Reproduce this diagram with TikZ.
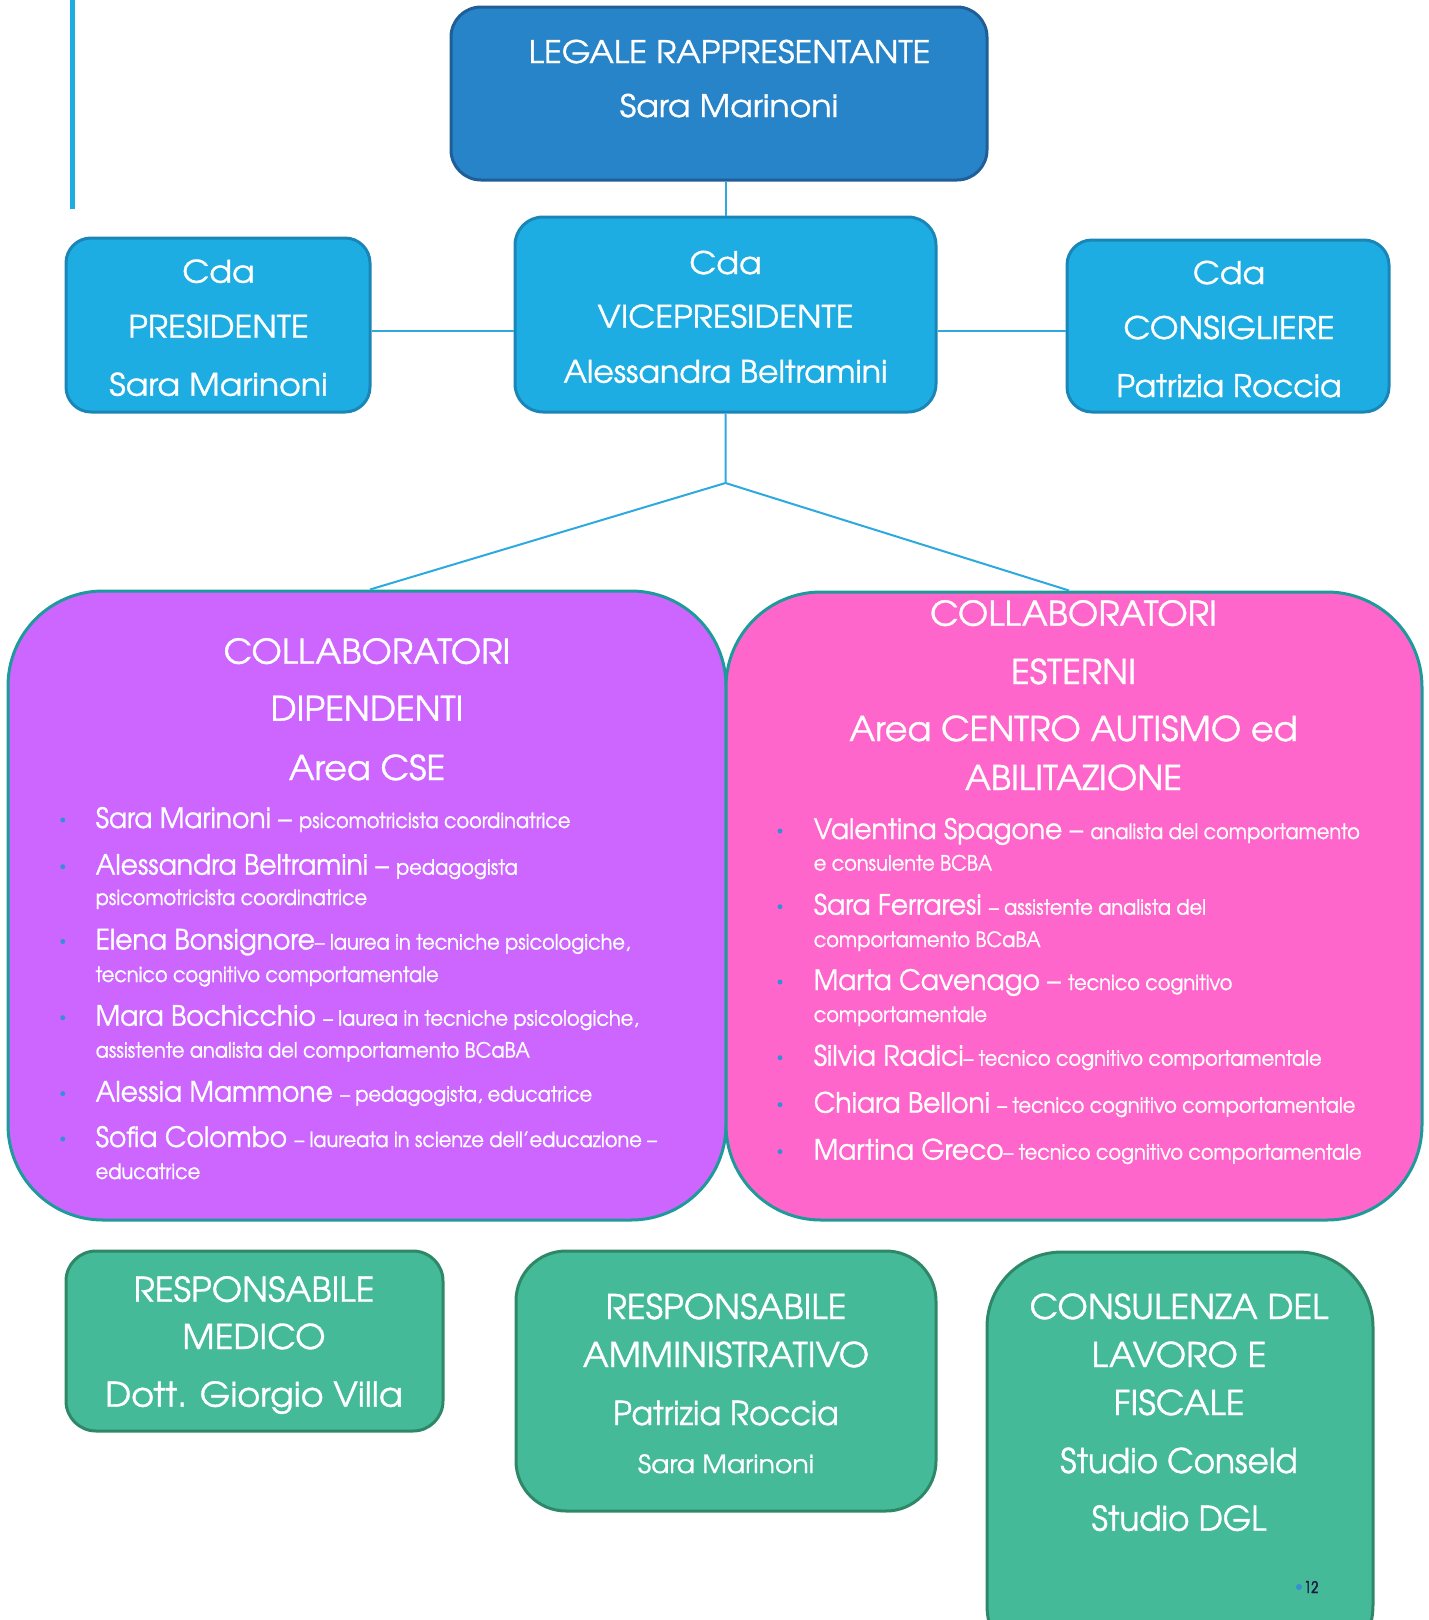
\documentclass[tikz,border=0pt]{standalone}
\usepackage{fontspec}
\setmainfont{texgyreadventor-regular.otf}[FakeStretch=1.0,FakeBold=1.0]
\newfontfamily\fCda{texgyreadventor-regular.otf}[FakeStretch=1.07,FakeBold=1.0]
\newfontfamily\fCdaM{texgyreadventor-regular.otf}[FakeStretch=1.02,FakeBold=1.0]
\newfontfamily\fHead{texgyreadventor-regular.otf}[FakeStretch=1.03,FakeBold=1.0]
\newfontfamily\fHeadM{texgyreadventor-regular.otf}[FakeStretch=0.96,FakeBold=1.0]
\newfontfamily\fName{texgyreadventor-regular.otf}[FakeStretch=0.95,FakeBold=1.0]
\newfontfamily\fDesc{texgyreadventor-regular.otf}[FakeStretch=0.92,FakeBold=1.0]
\newfontfamily\fPg{texgyreadventor-regular.otf}[FakeStretch=0.8,FakeBold=2.5]
\usetikzlibrary{calc}
\definecolor{legfill}{HTML}{2884C8}
\definecolor{legdraw}{HTML}{1F5E96}
\definecolor{cdafill}{HTML}{1EADE3}
\definecolor{cdadraw}{HTML}{1A86B8}
\definecolor{linkcol}{HTML}{2DA9DF}
\definecolor{purfill}{HTML}{CC66FF}
\definecolor{pinkfill}{HTML}{FF66CC}
\definecolor{bigdraw}{HTML}{1E9A9A}
\definecolor{grnfill}{HTML}{44BA98}
\definecolor{grndraw}{HTML}{2E8868}
\definecolor{bulcol}{HTML}{3490D5}
\definecolor{pgcol}{HTML}{1A1A40}
\newcommand\szCda{\fCda\fontsize{31}{36}\selectfont}
\newcommand\szCdaM{\fCdaM\fontsize{31}{36}\selectfont}
\newcommand\szHead{\fHead\fontsize{34}{40}\selectfont}
\newcommand\szHeadM{\fHeadM\fontsize{34}{40}\selectfont}
\newcommand\szName{\fName\fontsize{28}{32}\selectfont}
\newcommand\szDesc{\fDesc\fontsize{21}{25}\selectfont}
\newcommand\szSmall{\fCda\fontsize{25}{30}\selectfont}
\begin{document}
\begin{tikzpicture}[x=1pt,y=-1pt,
  box/.style={rectangle, draw, line width=3pt, inner sep=0pt},
  legbox/.style={box, fill=legfill, draw=legdraw},
  cdabox/.style={box, fill=cdafill, draw=cdadraw},
  bigbox/.style={box, draw=bigdraw},
  grnbox/.style={box, fill=grnfill, draw=grndraw},
  link/.style={draw=linkcol, line width=2pt},
  tl/.style={text=white, inner sep=0pt, anchor=base},
  tll/.style={tl, anchor=base west},
  bul/.style={circle, fill=bulcol, inner sep=0pt, minimum size=5pt}]
\useasboundingbox (0,0) rectangle (1429,1620);
\clip (0,0) rectangle (1429,1620);

% decorative left line
\draw[draw=cdafill, line width=5pt] (72,0) -- (72,209);

% boxes
\node[legbox, rounded corners=30pt, minimum width=536pt, minimum height=173pt] (leg) at (719,93.5) {};
\node[cdabox, rounded corners=25pt, minimum width=304pt, minimum height=174pt] (pres) at (218,325) {};
\node[cdabox, rounded corners=28pt, minimum width=421pt, minimum height=195pt] (vice) at (725.5,314.5) {};
\node[cdabox, rounded corners=25pt, minimum width=322pt, minimum height=172pt] (cons) at (1228,326) {};
\node[bigbox, fill=purfill, rounded corners=95pt, minimum width=718pt, minimum height=629pt] (dip) at (367,905.5) {};
\node[bigbox, fill=pinkfill, rounded corners=95pt, minimum width=696pt, minimum height=628pt] (est) at (1074,906) {};
\node[grnbox, rounded corners=30pt, minimum width=377pt, minimum height=180pt] (med) at (254.5,1341) {};
\node[grnbox, rounded corners=50pt, minimum width=420pt, minimum height=260pt] (amm) at (726,1381) {};
\node[grnbox, rounded corners=75pt, minimum width=386pt, minimum height=428pt] (fis) at (1180,1466) {};

% connectors
\coordinate (hub) at (725.5,483);
\path (pres.east) ++(0,6) coordinate (pe);
\path (cons.west) ++(0,5) coordinate (ce);
\path (dip.north) ++(3,0) coordinate (dn);
\path (est.north) ++(-5,0) coordinate (en);
\draw[link] (vice.north) -- (vice.north |- leg.south);
\draw[link] (pe) -- (pe -| vice.west);
\draw[link] (ce) -- (ce -| vice.east);
\draw[link] (vice.south) -- (hub) -- (dn);
\draw[link] (hub) -- (en);

% texts top boxes
\node[tl] (leg1) at (729.5,63) {\szCda LEGALE RAPPRESENTANTE};
\node[tl] (leg2) at (729,117) {\szCda Sara Marinoni};
\node[tl] (pres1) at (218.5,282.7) {\szCda Cda};
\node[tl] (pres2) at (218.5,337.7) {\szCda PRESIDENTE};
\node[tl] (pres3) at (218.5,395.7) {\szCda Sara Marinoni};
\node[tl] (vice1) at (725.5,274) {\szCda Cda};
\node[tl] (vice2) at (725.5,327.7) {\szCda VICEPRESIDENTE};
\node[tl] (vice3) at (725.5,382.7) {\szCdaM Alessandra Beltramini};
\node[tl] (cons1) at (1229,284) {\szCda Cda};
\node[tl] (cons2) at (1229,339) {\szCda CONSIGLIERE};
\node[tl] (cons3) at (1229,397) {\szCdaM Patrizia Roccia};

% dipendenti
\node[tl] (dh1) at (367,663.7) {\szHead COLLABORATORI};
\node[tl] (dh2) at (367,720.8) {\szHead DIPENDENTI};
\node[tl] (dh3) at (367,780) {\szHead Area CSE};
\node[bul] (db1) at (62.8,820) {};
\node[bul] (db2) at (62.8,866.7) {};
\node[bul] (db3) at (62.8,941.5) {};
\node[bul] (db4) at (62.8,1017.7) {};
\node[bul] (db5) at (62.8,1093.6) {};
\node[bul] (db6) at (62.8,1139) {};
\node[tll] (d1) at (95.5,828) {\szName Sara Marinoni – {\szDesc psicomotricista coordinatrice}};
\node[tll] (d2) at (95.5,874.7) {\szName Alessandra Beltramini – {\szDesc pedagogista}};
\node[tll] (d2b) at (95.5,905) {\szDesc psicomotricista coordinatrice};
\node[tll] (d3) at (95.5,949.5) {\szName Elena Bonsignore{\szDesc – laurea in tecniche psicologiche,}};
\node[tll] (d3b) at (95.5,982) {\szDesc tecnico cognitivo comportamentale};
\node[tll] (d4) at (95.5,1025.7) {\szName Mara Bochicchio {\szDesc – laurea in tecniche psicologiche,}};
\node[tll] (d4b) at (95.5,1057.6) {\szDesc assistente analista del comportamento BCaBA};
\node[tll] (d5) at (95.5,1101.6) {\szName Alessia Mammone {\szDesc – pedagogista, educatrice}};
\node[tll] (d6) at (95.5,1147) {\szName Sofia Colombo {\szDesc – laureata in scienze dell’educazione –}};
\node[tll] (d6b) at (95.5,1179) {\szDesc educatrice};

% esterni
\node[tl] (eh1) at (1073.5,625.7) {\szHead COLLABORATORI};
\node[tl] (eh2) at (1073.5,684) {\szHead ESTERNI};
\node[tl] (eh3) at (1073.5,741) {\szHead Area CENTRO AUTISMO ed};
\node[tl] (eh4) at (1073.5,790) {\szHead ABILITAZIONE};
\node[bul] (eb1) at (780,831) {};
\node[bul] (eb2) at (780,906.7) {};
\node[bul] (eb3) at (780,982) {};
\node[bul] (eb4) at (780,1057.7) {};
\node[bul] (eb5) at (780,1104.7) {};
\node[bul] (eb6) at (780,1151.6) {};
\node[tll] (e1) at (813.6,839) {\szName Valentina Spagone – {\szDesc analista del comportamento}};
\node[tll] (e1b) at (813.6,870.6) {\szDesc e consulente BCBA};
\node[tll] (e2) at (813.6,914.7) {\szName Sara Ferraresi {\szDesc – assistente analista del}};
\node[tll] (e2b) at (813.6,947) {\szDesc comportamento BCaBA};
\node[tll] (e3) at (813.6,990) {\szName Marta Cavenago – {\szDesc tecnico cognitivo}};
\node[tll] (e3b) at (813.6,1022) {\szDesc comportamentale};
\node[tll] (e4) at (813.6,1065.7) {\szName Silvia Radici{\szDesc – tecnico cognitivo comportamentale}};
\node[tll] (e5) at (813.6,1112.7) {\szName Chiara Belloni {\szDesc – tecnico cognitivo comportamentale}};
\node[tll] (e6) at (813.6,1159.6) {\szName Martina Greco{\szDesc – tecnico cognitivo comportamentale}};

% green boxes
\node[tl] (m1) at (254,1301.7) {\szHead RESPONSABILE};
\node[tl] (m2) at (254,1349) {\szHead MEDICO};
\node[tl] (m3) at (254,1406.7) {\szHead Dott. Giorgio Villa};
\node[tl] (a1) at (726,1319) {\szHead RESPONSABILE};
\node[tl] (a2) at (726,1367) {\szHead AMMINISTRATIVO};
\node[tl] (a3) at (726,1425) {\fHeadM\fontsize{33}{38}\selectfont Patrizia Roccia};
\node[tl] (a4) at (726,1473) {\szSmall Sara Marinoni};
\node[tl] (f1) at (1179,1319) {\szHead CONSULENZA DEL};
\node[tl] (f2) at (1179,1367) {\szHead LAVORO E};
\node[tl] (f3) at (1179,1415) {\szHead FISCALE};
\node[tl] (f4) at (1179,1473) {\szHeadM Studio Conseld};
\node[tl] (f5) at (1179,1530.7) {\szHeadM Studio DGL};

% page number
\node[circle, fill=bulcol, inner sep=0pt, minimum size=6pt] (pgdot) at (1299,1587) {};
\node[inner sep=0pt, anchor=base west, text=pgcol] (pg) at (1304,1593) {\fPg\fontsize{16}{18}\selectfont 12};
\end{tikzpicture}
\end{document}
